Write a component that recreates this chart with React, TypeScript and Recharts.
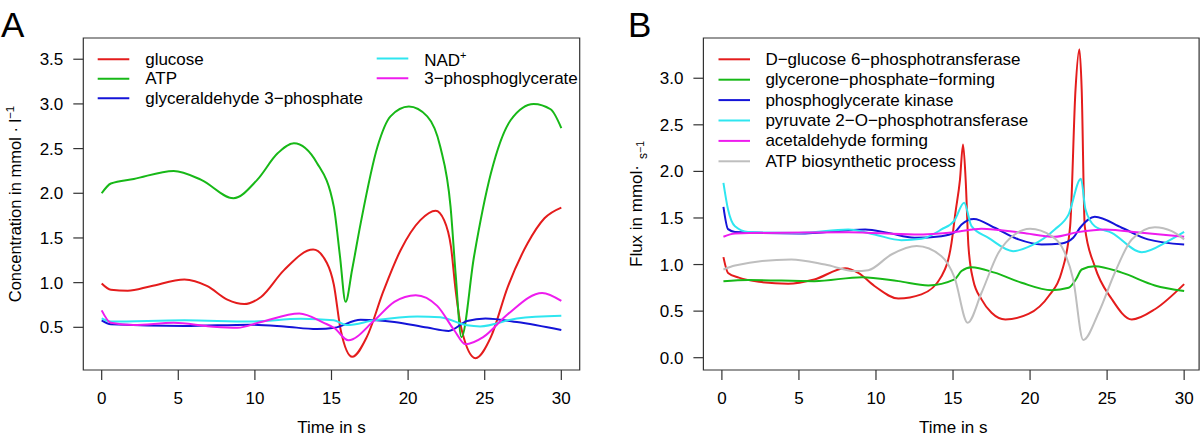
import { Legend, Line, LineChart, ReferenceArea, XAxis, YAxis } from "recharts";

const FONT = "'Liberation Sans', Arial, Helvetica, sans-serif";

type Pt = [number, number];

// Panel A: concentrations (mmol/l) against time (s)
const glucose: Pt[] = [
  [0, 0.99], [0.6, 0.92], [1.7, 0.91], [3.2, 0.96], [5.4, 1.035], [6.9, 0.96], [8.2, 0.81],
  [9.3, 0.76], [10.4, 0.84], [11.9, 1.14], [13.8, 1.37], [14.7, 1.22], [15.15, 0.98],
  [15.6, 0.47], [16.35, 0.17], [17.3, 0.39], [18.4, 0.91], [19.5, 1.36], [20.8, 1.7],
  [21.8, 1.805], [22.35, 1.7], [22.8, 1.4], [23.1, 0.92], [23.5, 0.47], [24.4, 0.155],
  [25.4, 0.39], [26.5, 0.95], [27.8, 1.44], [28.9, 1.72], [30, 1.84],
];
const atp: Pt[] = [
  [0, 2.0], [0.6, 2.11], [2.1, 2.16], [4.7, 2.25], [6.5, 2.15], [8.6, 1.945], [10.15, 2.15],
  [11.5, 2.45], [12.55, 2.56], [14.05, 2.34], [15.15, 1.85], [15.55, 1.3], [15.92, 0.785],
  [16.35, 1.15], [16.9, 1.66], [18.0, 2.52], [18.85, 2.86], [20.05, 2.97], [21.25, 2.86],
  [22.1, 2.52], [22.77, 1.85], [23.1, 1.1], [23.48, 0.39], [24.3, 1.29], [25.4, 2.22],
  [26.7, 2.82], [28.2, 3.0], [29.3, 2.94], [30, 2.73],
];
const gap: Pt[] = [
  [0, 0.578], [0.6, 0.535], [5.4, 0.515], [9.7, 0.53], [11.9, 0.51], [14.05, 0.48],
  [15.2, 0.495], [16.9, 0.585], [19.1, 0.56], [21.25, 0.497], [22.65, 0.46], [23.85, 0.57],
  [25.05, 0.6], [27.1, 0.56], [30, 0.47],
];
const nad: Pt[] = [
  [0, 0.6], [0.6, 0.565], [5.4, 0.578], [9.7, 0.565], [13, 0.595], [15.15, 0.578],
  [16.0, 0.525], [17.8, 0.578], [20.6, 0.622], [22.1, 0.612], [23.85, 0.522], [24.7, 0.51],
  [27.1, 0.6], [30, 0.63],
];
const pga: Pt[] = [
  [0, 0.69], [0.6, 0.55], [2.1, 0.525], [4.7, 0.55], [7.1, 0.51], [8.85, 0.495], [10.4, 0.56],
  [12.9, 0.655], [14.5, 0.55], [15.2, 0.49], [16.1, 0.355], [17.8, 0.578], [19.1, 0.785],
  [20.5, 0.86], [21.9, 0.74], [23.0, 0.47], [23.75, 0.31], [24.9, 0.39], [26.5, 0.646],
  [28.75, 0.885], [30, 0.795],
];

// Panel B: fluxes (mmol/s)
const hexokinase: Pt[] = [
  [0.1, 1.08], [0.4, 0.91], [1.1, 0.86], [2.4, 0.815], [4.3, 0.795], [6.0, 0.84], [8.0, 0.96],
  [8.85, 0.91], [9.9, 0.77], [11.45, 0.635], [12.95, 0.68], [14.25, 0.875], [14.9, 1.23],
  [15.15, 1.55], [15.45, 1.91], [15.65, 2.29], [15.82, 1.91], [16.0, 1.2], [16.3, 0.84],
  [16.85, 0.626], [17.5, 0.483], [18.4, 0.411], [19.9, 0.47], [21.2, 0.66], [22.05, 0.92],
  [22.6, 1.41], [22.95, 2.88], [23.2, 3.31], [23.35, 2.88], [23.55, 1.41], [24.2, 0.98],
  [25.3, 0.63], [26.6, 0.41], [28.1, 0.52], [30, 0.79],
];
const glycerone: Pt[] = [
  [0.1, 0.82], [1.7, 0.833], [6.0, 0.822], [9.1, 0.865], [11.45, 0.822], [13.4, 0.776],
  [15.1, 0.84], [15.55, 0.93], [16.2, 0.972], [17.7, 0.913], [19.45, 0.805], [21.4, 0.725],
  [22.5, 0.75], [23.0, 0.847], [23.35, 0.947], [24.2, 0.983], [25.95, 0.913], [28.1, 0.776],
  [30, 0.715],
];
const pgk: Pt[] = [
  [0.1, 1.62], [0.4, 1.38], [0.85, 1.35], [5.0, 1.334], [9.3, 1.377], [10.8, 1.34],
  [12.5, 1.288], [14.25, 1.305], [15.1, 1.345], [15.55, 1.43], [16.35, 1.49], [17.7, 1.395],
  [19.25, 1.27], [20.75, 1.216], [22.05, 1.227], [22.8, 1.287], [23.25, 1.395], [24.2, 1.513],
  [25.95, 1.395], [27.65, 1.27], [30, 1.215],
];
const pyruvateKinase: Pt[] = [
  [0.1, 1.877], [0.4, 1.59], [0.85, 1.41], [1.7, 1.35], [5.0, 1.34], [8.2, 1.377],
  [9.9, 1.323], [11.65, 1.262], [12.95, 1.276], [14.25, 1.377], [15.1, 1.475], [15.72, 1.663],
  [16.2, 1.412], [17.3, 1.287], [18.9, 1.144], [20.1, 1.205], [21.6, 1.377], [22.5, 1.538],
  [23.3, 1.92], [23.6, 1.59], [24.2, 1.412], [25.3, 1.341], [27.25, 1.133], [28.95, 1.251],
  [30, 1.35],
];
const acetaldehyde: Pt[] = [
  [0.1, 1.298], [0.85, 1.334], [8.2, 1.348], [12.5, 1.323], [15.1, 1.348], [16.85, 1.384],
  [19.45, 1.341], [21.6, 1.298], [23.1, 1.348], [24.85, 1.377], [27.25, 1.341], [30, 1.298],
];
const atpSynthesis: Pt[] = [
  [0.1, 0.947], [0.85, 0.99], [4.5, 1.055], [6.7, 1.0], [8.65, 0.93], [9.5, 0.94], [11.0, 1.108],
  [12.65, 1.198], [14.25, 1.09], [15.1, 0.86], [15.95, 0.375], [16.85, 0.697], [17.95, 1.127],
  [19.0, 1.323], [20.0, 1.384], [21.4, 1.305], [22.25, 1.127], [22.8, 0.84], [23.45, 0.19],
  [24.45, 0.483], [25.5, 0.912], [26.6, 1.269], [28.1, 1.401], [29.2, 1.359], [30, 1.27],
];

const timeTicks = [0, 5, 10, 15, 20, 25, 30];
const concTicks = [0.5, 1, 1.5, 2, 2.5, 3, 3.5];
const fluxTicks = [0, 0.5, 1, 1.5, 2, 2.5, 3];

const metaboliteNames = [
  "glucose",
  "ATP",
  "glyceraldehyde 3\u2212phosphate",
  "NAD+",
  "3\u2212phosphoglycerate",
];
const reactionNames = [
  "D\u2212glucose 6\u2212phosphotransferase",
  "glycerone\u2212phosphate\u2212forming",
  "phosphoglycerate kinase",
  "pyruvate 2\u2212O\u2212phosphotransferase",
  "acetaldehyde forming",
  "ATP biosynthetic process",
];

const RED = "#e41c1c";
const GREEN = "#17b817";
const BLUE = "#1414d8";
const CYAN = "#2ee6f0";
const MAGENTA = "#ee1cee";
const GRAY = "#bebebe";

const seriesA = [
  { name: metaboliteNames[0], pts: glucose, color: RED },
  { name: metaboliteNames[1], pts: atp, color: GREEN },
  { name: metaboliteNames[2], pts: gap, color: BLUE },
  { name: metaboliteNames[3], pts: nad, color: CYAN },
  { name: metaboliteNames[4], pts: pga, color: MAGENTA },
];
const seriesB = [
  { name: reactionNames[0], pts: hexokinase, color: RED },
  { name: reactionNames[1], pts: glycerone, color: GREEN },
  { name: reactionNames[2], pts: pgk, color: BLUE },
  { name: reactionNames[3], pts: pyruvateKinase, color: CYAN },
  { name: reactionNames[4], pts: acetaldehyde, color: MAGENTA },
  { name: reactionNames[5], pts: atpSynthesis, color: GRAY },
];

const X_DOMAIN_A: [number, number] = [-1.2, 31.2];
const X_DOMAIN_B: [number, number] = [-1.2, 30.97];
const Y_DOMAIN_A: [number, number] = [0.0224, 3.7376];
const Y_DOMAIN_B: [number, number] = [-0.132, 3.432];

const rows = (pts: Pt[]) => pts.map(([t, v]) => ({ t, v }));

const tickStyle = { fill: "#000", fontSize: 17, fontFamily: FONT };
const tickLine = { stroke: "#333", strokeWidth: 1.2 };

function Name({ x, y, text }: { x: number; y: number; text: string }) {
  const sup = text.endsWith("+");
  return (
    <text x={x} y={y} fontSize={17} fontFamily={FONT} fill="#000">
      {sup ? text.slice(0, -1) : text}
      {sup && (
        <tspan dy={-7} fontSize={11}>
          +
        </tspan>
      )}
    </text>
  );
}

function ordered(payload: any[] | undefined, names: string[]) {
  return [...(payload ?? [])].sort((a, b) => names.indexOf(a.value) - names.indexOf(b.value));
}

function LegendA({ payload }: any) {
  const items = ordered(payload, metaboliteNames);
  return (
    <svg width={600} height={120} style={{ display: "block", overflow: "visible" }}>
      {items.map((e: any, i: number) => {
        const right = i >= 3;
        const row = right ? i - 3 : i;
        const x0 = right ? 376.7 : 97.7;
        const y = right ? 58.5 + row * 19.8 : 59.3 + row * 19.5;
        return (
          <g key={e.value}>
            <line x1={x0} x2={x0 + 31.6} y1={y} y2={y} stroke={e.color} strokeWidth={2} />
            <Name x={x0 + 47.5} y={y + (right && row === 0 ? 7.5 : 5.5)} text={e.value} />
          </g>
        );
      })}
    </svg>
  );
}

function LegendB({ payload }: any) {
  const items = ordered(payload, reactionNames);
  return (
    <svg width={600} height={180} style={{ display: "block", overflow: "visible" }}>
      {items.map((e: any, i: number) => {
        const y = 59.3 + i * 20.4;
        return (
          <g key={e.value}>
            <line x1={118.5} x2={150} y1={y} y2={y} stroke={e.color} strokeWidth={2} />
            <Name x={165.4} y={y + 5.5} text={e.value} />
          </g>
        );
      })}
    </svg>
  );
}

function ConcLabel(props: any) {
  const vb = props.viewBox ?? { x: 0, y: 38, width: 83, height: 332 };
  const cx = vb.x + 21;
  const cy = vb.y + vb.height / 2;
  return (
    <text
      x={cx}
      y={cy}
      transform={`rotate(-90 ${cx} ${cy})`}
      textAnchor="middle"
      fontSize={16.5}
      fontFamily={FONT}
      fill="#000"
    >
      Concentration in mmol · l
      <tspan dy={-7} fontSize={11.5}>
        {"\u22121"}
      </tspan>
    </text>
  );
}

function FluxLabel(props: any) {
  const vb = props.viewBox ?? { x: 0, y: 38, width: 103, height: 332 };
  const cx = vb.x + 41.5;
  const cy = vb.y + vb.height / 2;
  return (
    <text
      x={cx}
      y={cy}
      transform={`rotate(-90 ${cx} ${cy})`}
      textAnchor="middle"
      fontSize={17}
      fontFamily={FONT}
      fill="#000"
    >
      Flux in mmol·
      <tspan dx={6} dy={5} fontSize={12}>
        s
      </tspan>
      <tspan dy={-3} fontSize={10.5}>
        {"\u22121"}
      </tspan>
    </text>
  );
}

function PanelA() {
  return (
    <LineChart width={600} height={438} margin={{ top: 38, right: 20.3, bottom: 0, left: 0 }}>
      <XAxis
        dataKey="t"
        type="number"
        domain={X_DOMAIN_A}
        allowDataOverflow
        ticks={timeTicks}
        interval={0}
        height={68}
        axisLine={false}
        tickLine={tickLine}
        tickSize={10}
        tickMargin={12}
        tick={tickStyle}
        label={{ value: "Time in s", position: "insideBottom", offset: 5, fill: "#000", fontSize: 17, fontFamily: FONT }}
      />
      <YAxis
        type="number"
        domain={Y_DOMAIN_A}
        allowDataOverflow
        ticks={concTicks}
        interval={0}
        width={83.3}
        axisLine={false}
        tickLine={tickLine}
        tickSize={10}
        tickMargin={10}
        tick={tickStyle}
        tickFormatter={(v: number) => v.toFixed(1)}
        label={ConcLabel}
      />
      {seriesA.map((s) => (
        <Line
          key={s.name}
          data={rows(s.pts)}
          dataKey="v"
          name={s.name}
          type="monotone"
          stroke={s.color}
          strokeWidth={2}
          dot={false}
          activeDot={false}
          isAnimationActive={false}
        />
      ))}
      <ReferenceArea
        x1={X_DOMAIN_A[0]}
        x2={X_DOMAIN_A[1]}
        y1={Y_DOMAIN_A[0]}
        y2={Y_DOMAIN_A[1]}
        fill="none"
        stroke="#333"
        strokeWidth={1.2}
        ifOverflow="visible"
      />
      <Legend
        layout="vertical"
        align="center"
        verticalAlign="middle"
        content={LegendA}
        wrapperStyle={{ left: 0, top: 0, width: 600, height: 120 }}
      />
    </LineChart>
  );
}

function PanelB() {
  return (
    <LineChart width={600} height={438} margin={{ top: 38, right: 0.9, bottom: 0, left: 0 }}>
      <XAxis
        dataKey="t"
        type="number"
        domain={X_DOMAIN_B}
        allowDataOverflow
        ticks={timeTicks}
        interval={0}
        height={68}
        axisLine={false}
        tickLine={tickLine}
        tickSize={10}
        tickMargin={12}
        tick={tickStyle}
        label={{ value: "Time in s", position: "insideBottom", offset: 5, dx: 2, fill: "#000", fontSize: 17, fontFamily: FONT }}
      />
      <YAxis
        type="number"
        domain={Y_DOMAIN_B}
        allowDataOverflow
        ticks={fluxTicks}
        interval={0}
        width={103.4}
        axisLine={false}
        tickLine={tickLine}
        tickSize={10}
        tickMargin={10}
        tick={tickStyle}
        tickFormatter={(v: number) => v.toFixed(1)}
        label={FluxLabel}
      />
      {seriesB.map((s) => (
        <Line
          key={s.name}
          data={rows(s.pts)}
          dataKey="v"
          name={s.name}
          type="monotone"
          stroke={s.color}
          strokeWidth={2}
          dot={false}
          activeDot={false}
          isAnimationActive={false}
        />
      ))}
      <ReferenceArea
        x1={X_DOMAIN_B[0]}
        x2={X_DOMAIN_B[1]}
        y1={Y_DOMAIN_B[0]}
        y2={Y_DOMAIN_B[1]}
        fill="none"
        stroke="#333"
        strokeWidth={1.2}
        ifOverflow="visible"
      />
      <Legend
        layout="vertical"
        align="center"
        verticalAlign="middle"
        content={LegendB}
        wrapperStyle={{ left: 0, top: 0, width: 600, height: 180 }}
      />
    </LineChart>
  );
}

export default function App() {
  return (
    <div
      style={{
        position: "absolute",
        left: 0,
        top: 0,
        width: 1200,
        height: 438,
        overflow: "hidden",
        background: "#fff",
      }}
    >
      <div style={{ position: "absolute", left: 0, top: 0 }}>
        <PanelA />
      </div>
      <div style={{ position: "absolute", left: 600, top: 0 }}>
        <PanelB />
      </div>
      <svg
        width={1200}
        height={438}
        style={{ position: "absolute", left: 0, top: 0, pointerEvents: "none" }}
      >
        <text x={1} y={36.5} fontSize={35} fontFamily={FONT} fill="#000">
          A
        </text>
        <text x={628} y={36.5} fontSize={35} fontFamily={FONT} fill="#000">
          B
        </text>
      </svg>
    </div>
  );
}
